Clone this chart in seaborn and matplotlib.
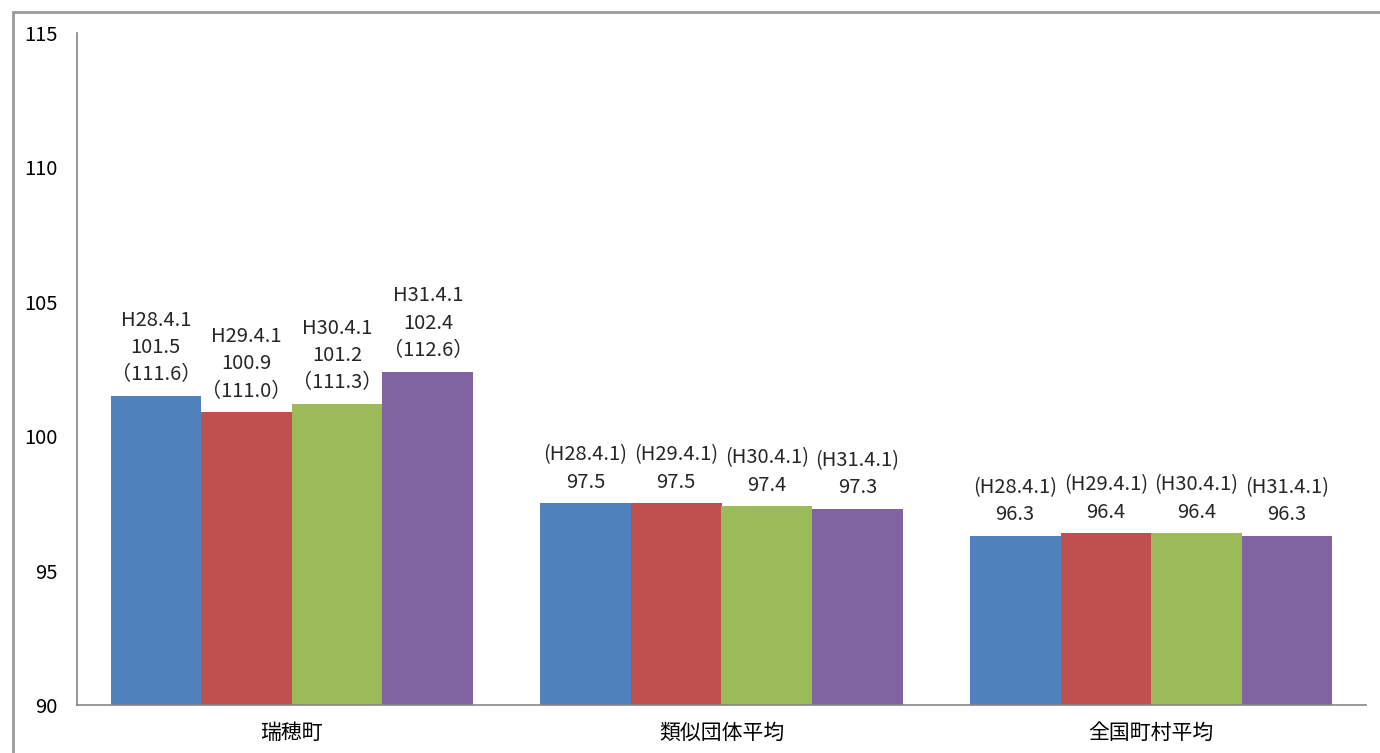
import matplotlib
matplotlib.use("Agg")
import matplotlib.pyplot as plt
import seaborn as sns
import pandas as pd
from matplotlib.patches import Rectangle

categories = ['瑞穂町', '類似団体平均', '全国町村平均']
periods = ['H28.4.1', 'H29.4.1', 'H30.4.1', 'H31.4.1']
mizuho = [101.5, 100.9, 101.2, 102.4]
mizuho_paren = [111.6, 111.0, 111.3, 112.6]
ruiji = [97.5, 97.5, 97.4, 97.3]
zenkoku = [96.3, 96.4, 96.4, 96.3]
colors = ['#4F81BD', '#C0504D', '#9BBB59', '#8064A2']
yticks = [90, 95, 100, 105, 110, 115]

sns.set_theme(style='white')
plt.rcParams['font.family'] = ['Noto Sans CJK JP', 'DejaVu Sans']

series = [mizuho, ruiji, zenkoku]
rows = []
for cat, vals in zip(categories, series):
    for p, v in zip(periods, vals):
        rows.append({'cat': cat, 'period': p, 'value': v})
df = pd.DataFrame(rows)

fig = plt.figure(figsize=(13.8, 7.53), dpi=100)
ax = fig.add_axes([77/1380, 1-705/753, (1366-77)/1380, (705-33)/753])

sns.barplot(data=df, x='cat', y='value', hue='period', order=categories,
            hue_order=periods, palette=colors, width=0.844, gap=0,
            saturation=1, ax=ax, legend=False,
            errorbar=None, edgecolor='none', linewidth=0)

ax.set_ylim(90, 115)
ax.set_yticks(yticks)
ax.set_xlim(-0.5, 2.5)
ax.set_xlabel('')
ax.set_ylabel('')
for s in ['top', 'right']:
    ax.spines[s].set_visible(False)
for s in ['left', 'bottom']:
    ax.spines[s].set_color('#868686')
    ax.spines[s].set_linewidth(1.2)
ax.tick_params(axis='y', length=0, pad=14, labelsize=14.5, colors='black')
ax.tick_params(axis='x', length=0, pad=12, labelsize=15, colors='black')

for i, cont in enumerate(ax.containers):
    p = periods[i]
    labels = [f'{p}\n{mizuho[i]:.1f}\n（{mizuho_paren[i]:.1f}）',
              f'({p})\n{ruiji[i]:.1f}',
              f'({p})\n{zenkoku[i]:.1f}']
    ax.bar_label(cont, labels=labels, padding=7.5, fontsize=14.5,
                 linespacing=1.4)

fig.patches.append(Rectangle((13/1380, -0.1), 1.2, 1.1 - 12/753,
                             transform=fig.transFigure, fill=False,
                             edgecolor='#9a9a9a', linewidth=2,
                             clip_on=False, figure=fig))

fig.savefig('out.png', dpi=100)
